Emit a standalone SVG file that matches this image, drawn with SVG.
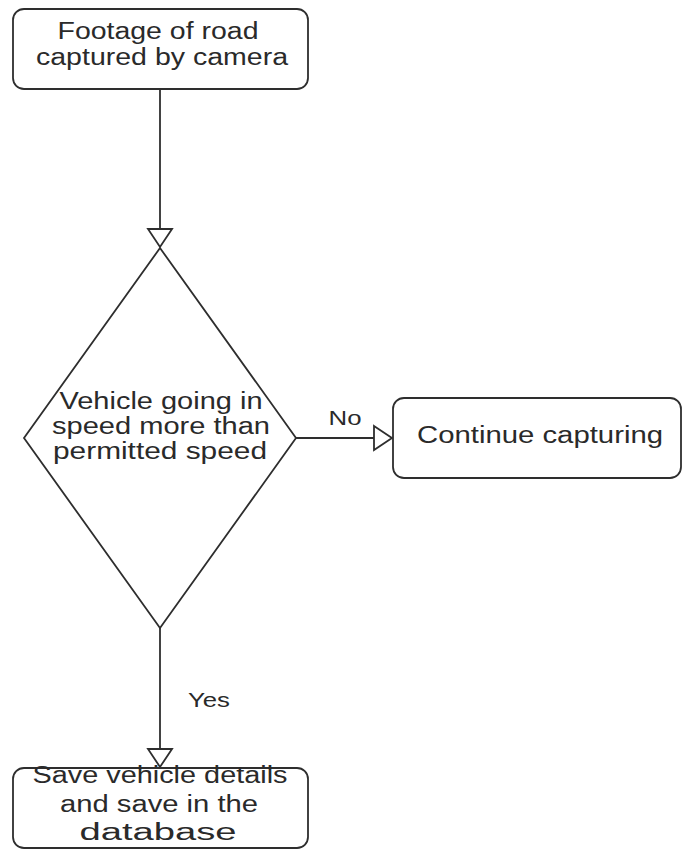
<svg xmlns="http://www.w3.org/2000/svg" width="683" height="850" viewBox="0 0 683 850">
<style>
.node{fill:#fff;stroke:#2e2e2e;stroke-width:1.8}
.edge{fill:none;stroke:#2e2e2e;stroke-width:1.8}
text{font-family:"Liberation Sans",Arial,sans-serif;font-size:23px;fill:#2a2a2a;text-anchor:middle}
.lbl{font-size:20px}
</style>
<defs>
<marker id="arr" markerUnits="userSpaceOnUse" viewBox="0 0 18 24" refX="18" refY="12" markerWidth="18" markerHeight="24" orient="auto" overflow="visible">
<path d="M0,0 L18,12 L0,24 Z" fill="#fff" stroke="#2e2e2e" stroke-width="1.8"/>
</marker>
</defs>
<rect width="683" height="850" fill="#fff"/>
<g id="connectors">
<path class="edge" d="M160,89 L160,247" marker-end="url(#arr)"/>
<path class="edge" d="M296,438 L392,438" marker-end="url(#arr)"/>
<path class="edge" d="M160,628 L160,767" marker-end="url(#arr)"/>
<text class="lbl" x="345" y="425" textLength="33" lengthAdjust="spacingAndGlyphs">No</text>
<text class="lbl" x="209" y="707" textLength="42" lengthAdjust="spacingAndGlyphs">Yes</text>
</g>
<g id="start">
<rect class="node" x="13" y="9" width="295" height="80" rx="11"/>
<text x="158" y="39" textLength="201" lengthAdjust="spacingAndGlyphs">Footage of road</text>
<text x="162" y="65" textLength="252" lengthAdjust="spacingAndGlyphs">captured by camera</text>
</g>
<g id="decision">
<polygon class="node" points="160,248 296,438 160,628 24,438"/>
<text x="161" y="409" textLength="203" lengthAdjust="spacingAndGlyphs">Vehicle going in</text>
<text x="161" y="434" textLength="218" lengthAdjust="spacingAndGlyphs">speed more than</text>
<text x="160" y="459" textLength="214" lengthAdjust="spacingAndGlyphs">permitted speed</text>
</g>
<g id="continue">
<rect class="node" x="393" y="398" width="288" height="80" rx="11"/>
<text x="540" y="443" textLength="246" lengthAdjust="spacingAndGlyphs">Continue capturing</text>
</g>
<g id="save">
<rect class="node" x="13" y="768" width="295" height="80" rx="11"/>
<text x="160" y="783" textLength="255" lengthAdjust="spacingAndGlyphs">Save vehicle details</text>
<text x="159" y="812" textLength="198" lengthAdjust="spacingAndGlyphs">and save in the</text>
<text x="158" y="840" textLength="157" lengthAdjust="spacingAndGlyphs">database</text>
</g>
</svg>
